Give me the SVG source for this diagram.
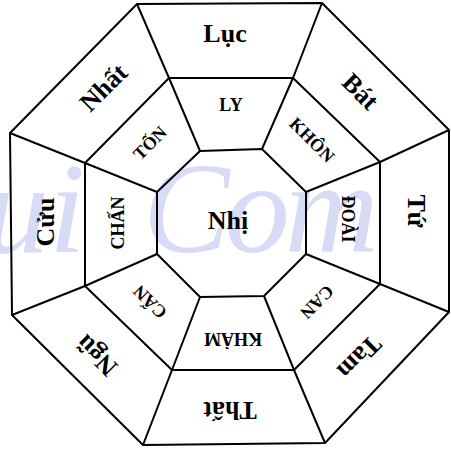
<svg xmlns="http://www.w3.org/2000/svg" width="451" height="449" viewBox="0 0 451 449">
<style>
.wm{font-family:"Liberation Serif","Times New Roman",serif;font-style:italic;font-size:130px;fill:#d7dbf6}
.ln{fill:none;stroke:#000;stroke-width:2;stroke-linejoin:round}
.o{font-family:"Liberation Serif","Times New Roman",serif;font-weight:bold;font-size:26px;text-anchor:middle;fill:#000}
.m{font-family:"Liberation Serif","Times New Roman",serif;font-weight:bold;font-size:18px;text-anchor:middle;fill:#000}
.c{font-family:"Liberation Serif","Times New Roman",serif;font-weight:bold;font-size:26px;text-anchor:middle;fill:#000}
</style>
<rect width="451" height="449" fill="#fff"/>
<g id="watermark">
<text class="wm" x="-16" y="252">ui</text>
<text class="wm" x="143" y="252" letter-spacing="-5">Com</text>
</g>
<g id="connectors">
<polygon class="ln" points="137,4 322,3 449,130 449,312 325,443 143,445 12,315 10,133"/>
<polygon class="ln" points="169,78 293,78 380,162 380,284 294,370 172,370 85,286 85,163"/>
<polygon class="ln" points="200,151 262,149 306,192 306,254 264,296 200,297 157,254 157,192"/>
<polyline class="ln" points="137,4 169,78 200,151"/>
<polyline class="ln" points="322,3 293,78 262,149"/>
<polyline class="ln" points="449,130 380,162 306,192"/>
<polyline class="ln" points="449,312 380,284 306,254"/>
<polyline class="ln" points="325,443 294,370 264,296"/>
<polyline class="ln" points="143,445 172,370 200,297"/>
<polyline class="ln" points="12,315 85,286 157,254"/>
<polyline class="ln" points="10,133 85,163 157,192"/>
</g>
<g id="luc"><text class="o" transform="translate(225,34)" y="8">Lục</text></g>
<g id="bat"><text class="o" transform="translate(360,92) rotate(45)" y="8">Bát</text></g>
<g id="tu"><text class="o" transform="translate(416,211) rotate(90)" y="8">Tứ</text></g>
<g id="tam"><text class="o" transform="translate(359,357) rotate(135)" y="8">Tam</text></g>
<g id="that"><text class="o" transform="translate(230,410) rotate(180)" y="8">Thất</text></g>
<g id="ngu"><text class="o" transform="translate(97,355) rotate(225)" y="8">Ngũ</text></g>
<g id="cuu"><text class="o" transform="translate(46,222) rotate(270)" y="8">Cửu</text></g>
<g id="nhat"><text class="o" transform="translate(104,88) rotate(315)" y="8">Nhất</text></g>
<g id="ly"><text class="m" transform="translate(231,105)" y="6">LY</text></g>
<g id="khon"><text class="m" transform="translate(312,140) rotate(45)" y="6">KHÔN</text></g>
<g id="doai"><text class="m" transform="translate(348,219) rotate(90)" y="6">ĐOÀI</text></g>
<g id="can-se"><text class="m" transform="translate(317,302) rotate(135)" y="6">CAN</text></g>
<g id="kham"><text class="m" transform="translate(233,339) rotate(180)" y="6">KHẢM</text></g>
<g id="can-sw"><text class="m" transform="translate(150,302) rotate(225)" y="6">CẤN</text></g>
<g id="chan"><text class="m" transform="translate(118,223) rotate(270)" y="6">CHẤN</text></g>
<g id="ton"><text class="m" transform="translate(150,143) rotate(315)" y="6">TỐN</text></g>
<g id="nhi"><text class="c" transform="translate(228,221)" y="8">Nhị</text></g>
</svg>
